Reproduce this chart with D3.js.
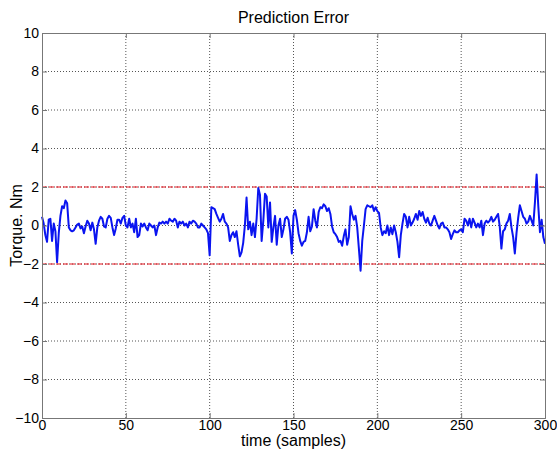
<!DOCTYPE html>
<html>
<head>
<meta charset="utf-8">
<script src="https://cdn.jsdelivr.net/npm/d3@7"></script>
<style>
  body { margin: 0; background: #fff; }
  svg { font-family: "Liberation Sans", Arial, sans-serif; }
</style>
</head>
<body>
<div id="chart"></div>
<script>
// prediction error, one value per sample (0..300)
var errorValues = [
  0.45, 0.1, -0.5, -0.85, 0.3, 0.35, -0.8, 0.1, -0.3, -1.9,
  -0.4, 0.5, 1.0, 0.9, 1.3, 1.15, -0.1, -0.25, -0.3, -0.25,
  -0.1, 0.05, 0.1, -0.15, -0.05, -0.4, -0.05, 0.25, 0.1, -0.25,
  0.15, -0.2, -0.95, -0.1, 0.25, 0.45, 0.35, -0.05, -0.1, 0.35,
  0.5, 0.4, -0.1, -0.5, -0.15, 0.3, 0.3, 0.1, 0.4, 0.5,
  0, -0.1, 0.35, -0.1, 0.1, -0.35, 0.35, -0.6, -0.5, 0.1,
  -0.05, 0.1, -0.1, -0.25, 0.1, 0, -0.1, 0, -0.5, -0.1,
  0.15, 0.1, 0.2, 0.1, 0.2, 0.1, 0.35, 0.25, 0.2, 0.35,
  0.25, -0.1, 0.2, 0.1, 0.2, 0, 0.1, -0.1, 0.2, 0.1,
  0.25, 0.2, 0.1, -0.1, -0.1, 0.1, 0, -0.1, -0.2, -0.4,
  -1.55, 0.95, 0.9, 0.85, 0.6, 0.4, 0.2, 0.35, 0.6, 0.2,
  0.1, -0.1, -0.8, -0.5, -0.35, -0.6, -0.3, -1.0, -1.6, -1.4,
  -0.9, 0, 1.45, -0.2, 0.2, -0.5, 0.1, -0.6, 0.35, 1.95,
  1.6, -0.8, 0.25, 1.65, 1.5, -0.1, 1.2, -0.85, -0.1, 0.5,
  -1.0, 0, 0.35, -0.6, -0.2, 0.35, 0.45, 0.3, -0.35, -1.45,
  0.5, 0.8, 0.3, -0.4, -0.8, -1.05, -0.85, -0.8, -0.35, 0.45,
  -0.3, -0.05, 0.85, 0.25, -0.1, 0.7, 0.95, 0.9, 1.1, 1.0,
  0.75, 0.9, 0.6, -0.05, -0.35, -0.45, -0.6, -0.85, -0.8, -1.05,
  -0.55, -0.2, -1.0, -0.6, 1.0, 0.6, 0.3, 0.5, -0.1, -1.2,
  -2.35, -0.8, 0, 0.85, 1.05, 1.0, 0.95, 1.05, 0.75, 0.95,
  0.75, 0.65, -0.1, -0.5, -0.3, -0.4, 0, -0.5, -0.1, -0.45,
  0, -0.35, -0.85, -1.65, -0.5, 0.1, 0.6, 0.45, -0.1, 0.45,
  0, 0.15, 0.35, 0.6, 0.3, 0.75, 0.5, 0.7, 0.35, 0.15,
  0.4, 0.1, 0, 0.25, 0.5, 0.25, 0, -0.15, 0.1, 0.15,
  -0.1, -0.1, -0.2, -0.35, -0.7, -0.45, -0.25, -0.35, -0.35, -0.25,
  -0.2, -0.35, 0.35, 0.25, 0, 0.35, -0.1, 0.35, 0.15, -0.1,
  0.1, -0.1, 0.25, -0.5, 0.1, 0.25, 0.15, 0.25, 0.45, 0.2,
  0.3, 0.45, 0.6, -0.05, -1.2, -0.3, -0.2, 0.1, 0.25, 0.6,
  -0.1, -0.6, -1.45, -0.4, 0.4, 1.05, 0.75, 0.45, 0.35, 0.1,
  0.2, 0.5, 0.25, 0, 1.2, 2.65, 1.0, -0.35, 0.3, -0.6,
  -0.95
];
var xTicks = [0, 50, 100, 150, 200, 250, 300];
var yTicks = [-10, -8, -6, -4, -2, 0, 2, 4, 6, 8, 10];
var limitLines = [2, -2];

var width = 557, height = 450;
var margin = { top: 33, right: 12, bottom: 32, left: 42 };
var plotW = width - margin.left - margin.right;
var plotH = height - margin.top - margin.bottom;

var svg = d3.select("#chart").append("svg")
  .attr("width", width)
  .attr("height", height);

var g = svg.append("g")
  .attr("transform", "translate(" + margin.left + "," + margin.top + ")");

var x = d3.scaleLinear().domain([0, 300]).range([0, plotW]);
var y = d3.scaleLinear().domain([-10, 10]).range([plotH, 0]);

// dotted grid
g.append("g")
  .attr("class", "grid")
  .selectAll("line.gx")
  .data(xTicks.slice(1, -1))
  .enter().append("line")
  .attr("x1", function (d) { return x(d); })
  .attr("x2", function (d) { return x(d); })
  .attr("y1", 0)
  .attr("y2", plotH)
  .attr("stroke", "#555")
  .attr("stroke-width", 1)
  .attr("stroke-dasharray", "1,2");

g.append("g")
  .attr("class", "grid")
  .selectAll("line.gy")
  .data(yTicks.slice(1, -1))
  .enter().append("line")
  .attr("x1", 0)
  .attr("x2", plotW)
  .attr("y1", function (d) { return y(d); })
  .attr("y2", function (d) { return y(d); })
  .attr("stroke", "#555")
  .attr("stroke-width", 1)
  .attr("stroke-dasharray", "1,2");

// limit lines at +/-2
g.selectAll("line.limit")
  .data(limitLines)
  .enter().append("line")
  .attr("class", "limit")
  .attr("x1", 0)
  .attr("x2", plotW)
  .attr("y1", function (d) { return y(d); })
  .attr("y2", function (d) { return y(d); })
  .attr("stroke", "#e8141e")
  .attr("stroke-width", 1)
  .attr("stroke-dasharray", "5,2");

// error trace
var line = d3.line()
  .x(function (d, i) { return x(i); })
  .y(function (d) { return y(d); });

g.append("path")
  .datum(errorValues)
  .attr("fill", "none")
  .attr("stroke", "#0a14f0")
  .attr("stroke-width", 2)
  .attr("stroke-linejoin", "round")
  .attr("d", line);

// axes box with inward ticks
var axisColor = "#777";

var bottomAxis = g.append("g")
  .attr("transform", "translate(0," + plotH + ")")
  .call(d3.axisBottom(x).tickValues(xTicks).tickSize(-5).tickPadding(2));
var topAxis = g.append("g")
  .call(d3.axisTop(x).tickValues(xTicks).tickSize(-5).tickFormat(""));
var leftAxis = g.append("g")
  .call(d3.axisLeft(y).tickValues(yTicks).tickSize(-5).tickPadding(3));
var rightAxis = g.append("g")
  .attr("transform", "translate(" + plotW + ",0)")
  .call(d3.axisRight(y).tickValues(yTicks).tickSize(-5).tickFormat(""));

[bottomAxis, topAxis, leftAxis, rightAxis].forEach(function (a) {
  a.selectAll("path").attr("stroke", axisColor);
  a.selectAll("line").attr("stroke", axisColor);
  a.selectAll("text")
    .attr("fill", "#000")
    .style("font-size", "14px")
    .style("font-family", "Liberation Sans, Arial, sans-serif");
});

// titles
svg.append("text")
  .attr("x", margin.left + plotW / 2)
  .attr("y", 23)
  .attr("text-anchor", "middle")
  .style("font-size", "16px")
  .text("Prediction Error");

svg.append("text")
  .attr("x", margin.left + plotW / 2)
  .attr("y", 446)
  .attr("text-anchor", "middle")
  .style("font-size", "16px")
  .text("time (samples)");

svg.append("text")
  .attr("transform", "translate(22," + (margin.top + plotH / 2) + ") rotate(-90)")
  .attr("text-anchor", "middle")
  .style("font-size", "16px")
  .text("Torque. Nm");
</script>
</body>
</html>
